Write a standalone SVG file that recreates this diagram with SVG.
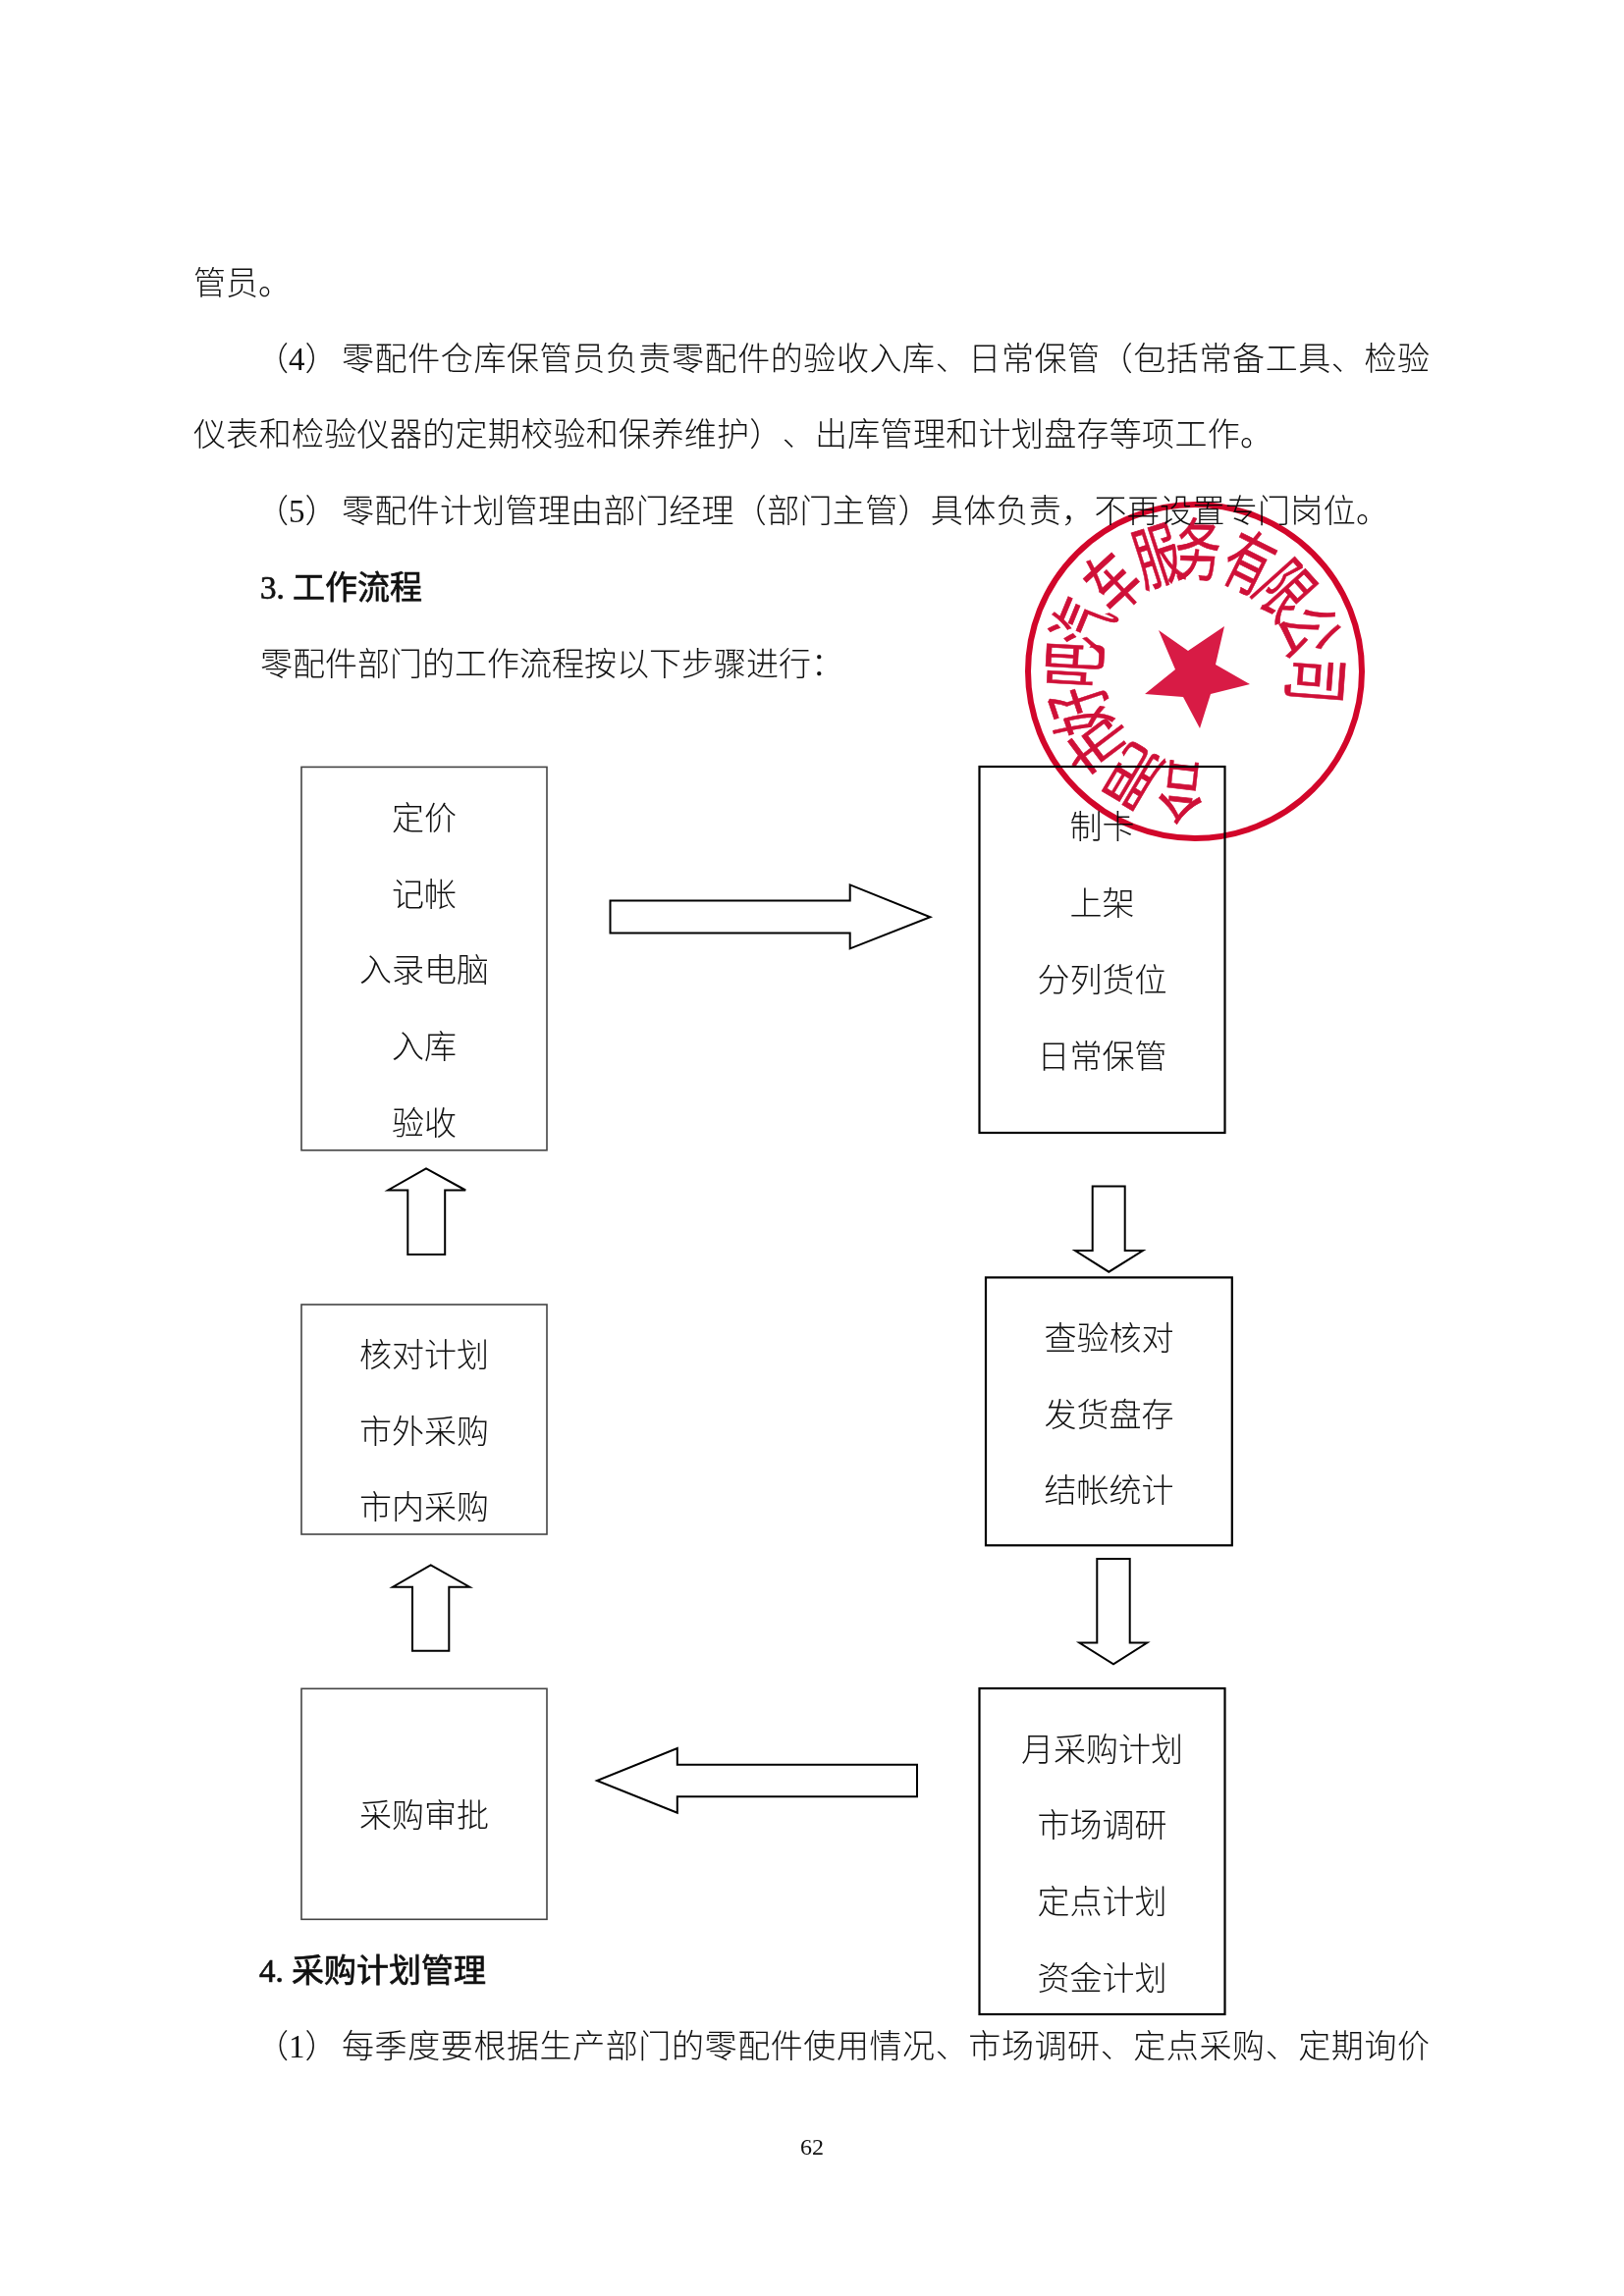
<svg xmlns="http://www.w3.org/2000/svg" width="1654" height="2339" viewBox="0 0 1654 2339">
<style>
text{font-family:"Liberation Serif","Noto Sans CJK SC",serif;font-size:33px;fill:#111;font-weight:300;text-spacing-trim:space-all;font-kerning:none}
.c{text-anchor:middle}
.h{font-weight:400;stroke:#111;stroke-width:.7}
.bl{fill:#fff;stroke:#444;stroke-width:1.6}
.br{fill:#fff;stroke:#000;stroke-width:2.2}
.a{fill:#fff;stroke:#000;stroke-width:2;stroke-linejoin:miter}
#stamp{mix-blend-mode:multiply}
#stamp circle{fill:none;stroke:#d2062a;stroke-width:6}
#stamp polygon{fill:#d81b45}
#stamp text{font-family:"Noto Sans CJK SC",sans-serif;font-size:52px;fill:#cf1038;stroke:#cf1038;stroke-width:.5;text-anchor:middle;font-weight:400}
</style>
<rect width="1654" height="2339" fill="#fff"/>
<g id="body-text">
<text x="197" y="300">管员。</text>
<text x="261" y="377">（4）</text><text x="348" y="377" textLength="1108">零配件仓库保管员负责零配件的验收入库、日常保管（包括常备工具、检验</text>
<text x="197" y="454" textLength="1099">仪表和检验仪器的定期校验和保养维护）、出库管理和计划盘存等项工作。</text>
<text x="261" y="532">（5）</text><text x="348" y="532" textLength="1066">零配件计划管理由部门经理（部门主管）具体负责，不再设置专门岗位。</text>
<text x="265" y="610" class="h">3.<tspan x="298">工作流程</tspan></text>
<text x="265" y="688">零配件部门的工作流程按以下步骤进行：</text>
<text x="264" y="2019" class="h">4.<tspan x="297">采购计划管理</tspan></text>
<text x="261" y="2096">（1）</text><text x="348" y="2096" textLength="1108">每季度要根据生产部门的零配件使用情况、市场调研、定点采购、定期询价</text>
<text x="827" y="2195" class="c" style="font-size:24px;font-weight:400">62</text>
</g>
<g id="connectors">
<polygon class="a" points="621.5,917.5 865.7,917.5 865.7,901.4 947.4,934.3 865.7,966.4 865.7,950.4 621.5,950.4"/>
<polygon class="a" points="1112.7,1208.6 1145.7,1208.6 1145.7,1274 1164,1274 1129.3,1295.7 1095,1274 1112.7,1274"/>
<polygon class="a" points="1117.3,1587.9 1150.7,1587.9 1150.7,1673.6 1168.3,1673.6 1134,1695.4 1099.3,1673.6 1117.3,1673.6"/>
<polygon class="a" points="934,1797.7 689.8,1797.7 689.8,1781 608,1814 689.8,1846.7 689.8,1830.3 934,1830.3"/>
<polygon class="a" points="420,1681.7 457.3,1681.7 457.3,1616.7 478.3,1616.7 438.7,1594.3 400,1616.7 420,1616.7"/>
<polygon class="a" points="415.3,1277.9 453.2,1277.9 453.2,1212.5 474.2,1212.5 434,1190.4 395.2,1212.5 415.3,1212.5"/>
</g>
<g id="node-receive">
<rect class="bl" x="307" y="781.4" width="250" height="390.4"/>
<text class="c" x="432" y="845">定价</text><text class="c" x="432" y="923">记帐</text><text class="c" x="432" y="1000">入录电脑</text><text class="c" x="432" y="1078">入库</text><text class="c" x="432" y="1156">验收</text>
</g>
<g id="node-shelve">
<rect class="br" x="997.5" y="781" width="250" height="373"/>
<text class="c" x="1122.5" y="854">制卡</text><text class="c" x="1122.5" y="932">上架</text><text class="c" x="1122.5" y="1010">分列货位</text><text class="c" x="1122.5" y="1088">日常保管</text>
</g>
<g id="node-check">
<rect class="br" x="1004" y="1301.4" width="250.8" height="272.9"/>
<text class="c" x="1129.5" y="1375">查验核对</text><text class="c" x="1129.5" y="1453">发货盘存</text><text class="c" x="1129.5" y="1530">结帐统计</text>
</g>
<g id="node-plan">
<rect class="br" x="997.5" y="1720" width="250" height="332"/>
<text class="c" x="1122.5" y="1794">月采购计划</text><text class="c" x="1122.5" y="1871">市场调研</text><text class="c" x="1122.5" y="1949">定点计划</text><text class="c" x="1122.5" y="2027">资金计划</text>
</g>
<g id="node-approve">
<rect class="bl" x="307" y="1720.3" width="250" height="235"/>
<text class="c" x="432" y="1861">采购审批</text>
</g>
<g id="node-purchase">
<rect class="bl" x="307" y="1329" width="250" height="234"/>
<text class="c" x="432" y="1392">核对计划</text><text class="c" x="432" y="1470">市外采购</text><text class="c" x="432" y="1547">市内采购</text>
</g>
<g id="stamp">
<circle cx="1217" cy="684" r="170"/>
<polygon points="1180,642 1210,663 1247,638 1238,677 1273,697 1233,707 1222,742 1205,710 1166,707 1197,682"/>
<text y="18" transform="rotate(-173.6 1217 684) translate(1217 562) scale(.9 1.35)">合</text>
<text y="18" transform="rotate(-149.3 1217 684) translate(1217 562) scale(.9 1.35)">肥</text>
<text y="18" transform="rotate(-127 1217 684) translate(1217 562) scale(.9 1.35)">市</text>
<text y="18" transform="rotate(-108.4 1217 684) translate(1217 562) scale(.9 1.35)">好</text>
<text y="18" transform="rotate(-86.8 1217 684) translate(1217 562) scale(.9 1.35)">吧</text>
<text y="18" transform="rotate(-67.6 1217 684) translate(1217 562) scale(.9 1.35)">汽</text>
<text y="18" transform="rotate(-42.7 1217 684) translate(1217 562) scale(.9 1.35)">车</text>
<text y="18" transform="rotate(-18 1217 684) translate(1217 562) scale(.9 1.35)">服</text>
<text y="18" transform="rotate(1.4 1217 684) translate(1217 562) scale(.9 1.35)">务</text>
<text y="18" transform="rotate(26.4 1217 684) translate(1217 562) scale(.9 1.35)">有</text>
<text y="18" transform="rotate(48 1217 684) translate(1217 562) scale(.9 1.35)">限</text>
<text y="18" transform="rotate(70.3 1217 684) translate(1217 562) scale(.9 1.35)">公</text>
<text y="18" transform="rotate(94.2 1217 684) translate(1217 562) scale(.9 1.35)">司</text>
</g>
</svg>
